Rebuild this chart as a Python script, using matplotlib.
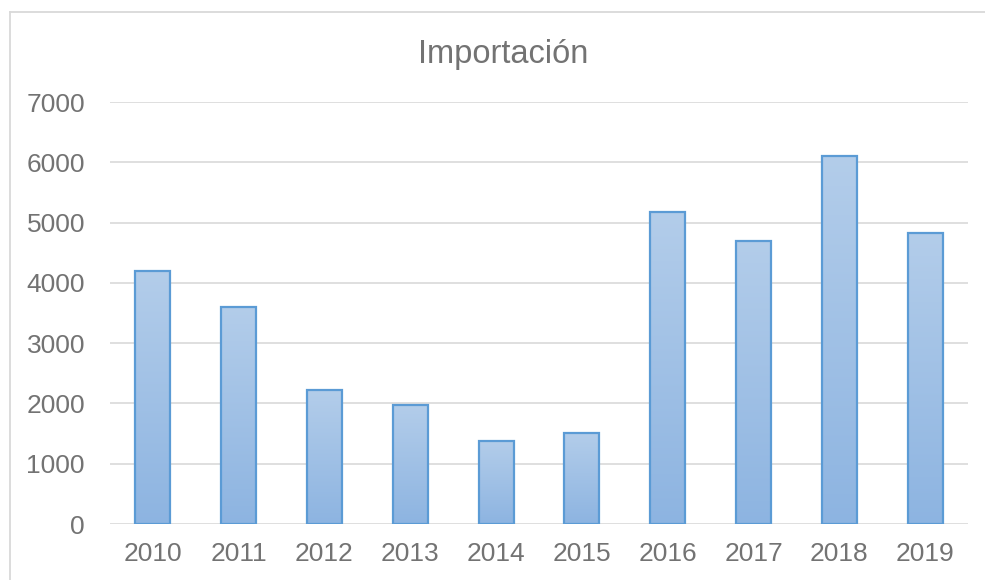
import numpy as np
import matplotlib
matplotlib.use("Agg")
import matplotlib.pyplot as plt
from matplotlib.lines import Line2D
from matplotlib.colors import LinearSegmentedColormap

years = ["2010", "2011", "2012", "2013", "2014", "2015", "2016", "2017", "2018", "2019"]
importacion = [4190, 3600, 2220, 1980, 1380, 1510, 5180, 4700, 6100, 4830]
yticks = [0, 1000, 2000, 3000, 4000, 5000, 6000, 7000]

plt.rcParams["font.family"] = ["Liberation Sans", "DejaVu Sans"]
text_color = "#737373"

fig = plt.figure(figsize=(9.85, 5.8), dpi=100)
ax = fig.add_axes([110 / 985, 56 / 580, 858 / 985, 422 / 580])

x = np.arange(len(years))
bars = ax.bar(x, importacion, width=0.41, color="none",
              edgecolor="#5b9bd5", linewidth=1.6, zorder=3)

# gradient fill, light at top, darker at bottom
cmap = LinearSegmentedColormap.from_list("g", ["#8db4e1", "#b3cdea"])
grad = np.linspace(0, 1, 256).reshape(-1, 1)
for b in bars:
    x0, w, h = b.get_x(), b.get_width(), b.get_height()
    ax.imshow(grad, extent=[x0, x0 + w, 0, h], origin="lower",
              cmap=cmap, aspect="auto", zorder=2)

ax.set_xlim(-0.5, len(years) - 0.5)
ax.set_ylim(0, 7000)
ax.set_yticks(yticks)
ax.set_xticks(x)
ax.set_xticklabels(years)
ax.tick_params(axis="both", length=0, labelsize=19, colors=text_color)
ax.tick_params(axis="y", pad=18)
ax.tick_params(axis="x", pad=13)
ax.grid(axis="y", color="#d9d9d9", linewidth=1.2, zorder=0)
for s in ax.spines.values():
    s.set_visible(False)

fig.text(503 / 985, 1 - 54 / 580, "Importación", fontsize=23.5, color=text_color,
         ha="center", va="center")

# chart area border (only top and left visible)
fig.add_artist(Line2D([10 / 985, 10 / 985], [0, 1 - 12 / 580], transform=fig.transFigure,
                      color="#d9d9d9", linewidth=1.3))
fig.add_artist(Line2D([10 / 985, 1], [1 - 12 / 580, 1 - 12 / 580], transform=fig.transFigure,
                      color="#d9d9d9", linewidth=1.3))

fig.savefig("out.png", dpi=100)
